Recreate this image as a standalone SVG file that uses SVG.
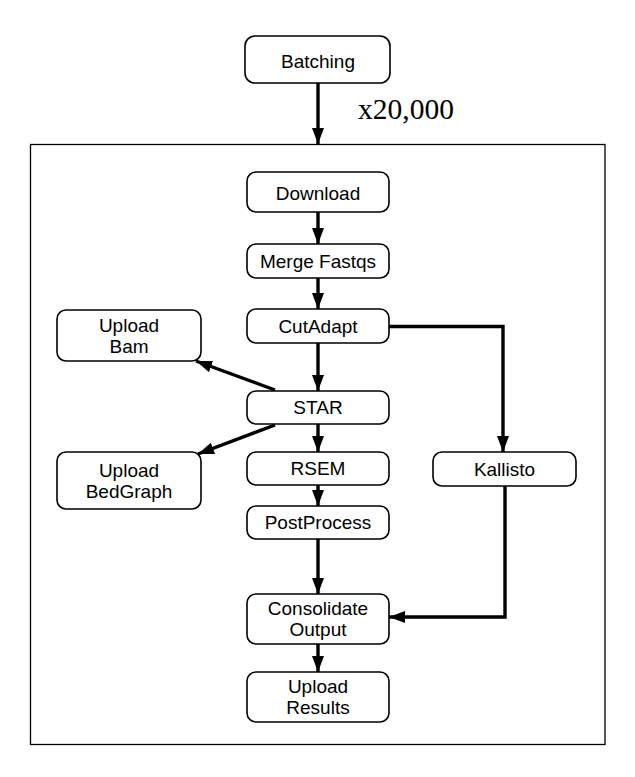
<svg xmlns="http://www.w3.org/2000/svg" width="635" height="777" viewBox="0 0 635 777">
<defs>
<style>
.node rect{fill:#fff;stroke:#000;stroke-width:1.6}
.node text{font-family:"Liberation Sans",Arial,sans-serif;font-size:19px;fill:#000;text-anchor:middle}
.edge{fill:none;stroke:#000;stroke-width:3.4}
.frame{fill:none;stroke:#000;stroke-width:1.3}
.lbl{font-family:"Liberation Serif","Times New Roman",serif;font-size:29.5px;fill:#000}
</style>
<marker id="arr" markerUnits="userSpaceOnUse" markerWidth="18" markerHeight="14" refX="16" refY="6" orient="auto">
<path d="M0,0 L16,6 L0,12 Z" fill="#000"/>
</marker>
</defs>
<rect class="frame" x="30.5" y="144.5" width="574.5" height="600"/>
<text class="lbl" x="358" y="119">x20,000</text>
<g id="connectors">
<path class="edge" d="M318,83 V144" marker-end="url(#arr)"/>
<path class="edge" d="M318,212 V244" marker-end="url(#arr)"/>
<path class="edge" d="M318,278 V309" marker-end="url(#arr)"/>
<path class="edge" d="M318,343 V391" marker-end="url(#arr)"/>
<path class="edge" d="M318,424 V452" marker-end="url(#arr)"/>
<path class="edge" d="M318,485 V506" marker-end="url(#arr)"/>
<path class="edge" d="M318,539 V594" marker-end="url(#arr)"/>
<path class="edge" d="M318,644 V672" marker-end="url(#arr)"/>
<path class="edge" d="M389,326.5 H503 V452" marker-end="url(#arr)"/>
<path class="edge" d="M505,486 V617 H389" marker-end="url(#arr)"/>
<path class="edge" d="M275,390 L196,361" marker-end="url(#arr)"/>
<path class="edge" d="M275,425 L198,454" marker-end="url(#arr)"/>
</g>
<g id="batching" class="node"><rect x="245" y="36" width="145" height="47" rx="10"/><text x="318" y="68">Batching</text></g>
<g id="download" class="node"><rect x="247" y="172" width="142" height="40" rx="9"/><text x="318" y="200">Download</text></g>
<g id="merge" class="node"><rect x="247" y="244" width="142" height="34" rx="9"/><text x="318" y="268">Merge Fastqs</text></g>
<g id="cutadapt" class="node"><rect x="247" y="309" width="142" height="34" rx="9"/><text x="318" y="333">CutAdapt</text></g>
<g id="star" class="node"><rect x="247" y="391" width="142" height="33" rx="9"/><text x="318" y="414">STAR</text></g>
<g id="rsem" class="node"><rect x="247" y="452" width="142" height="33" rx="9"/><text x="318" y="475">RSEM</text></g>
<g id="postprocess" class="node"><rect x="247" y="506" width="142" height="33" rx="9"/><text x="318" y="529">PostProcess</text></g>
<g id="consolidate" class="node"><rect x="247" y="594" width="142" height="50" rx="9"/><text x="318" y="615">Consolidate</text><text x="318" y="636">Output</text></g>
<g id="uploadresults" class="node"><rect x="247" y="672" width="142" height="50" rx="9"/><text x="318" y="693">Upload</text><text x="318" y="714">Results</text></g>
<g id="kallisto" class="node"><rect x="433" y="452" width="143" height="34" rx="9"/><text x="504.5" y="476">Kallisto</text></g>
<g id="uploadbam" class="node"><rect x="57" y="310" width="144" height="51" rx="9"/><text x="129" y="332">Upload</text><text x="129" y="353">Bam</text></g>
<g id="uploadbedgraph" class="node"><rect x="57" y="452" width="144" height="57" rx="9"/><text x="129" y="477">Upload</text><text x="129" y="498">BedGraph</text></g>
</svg>
